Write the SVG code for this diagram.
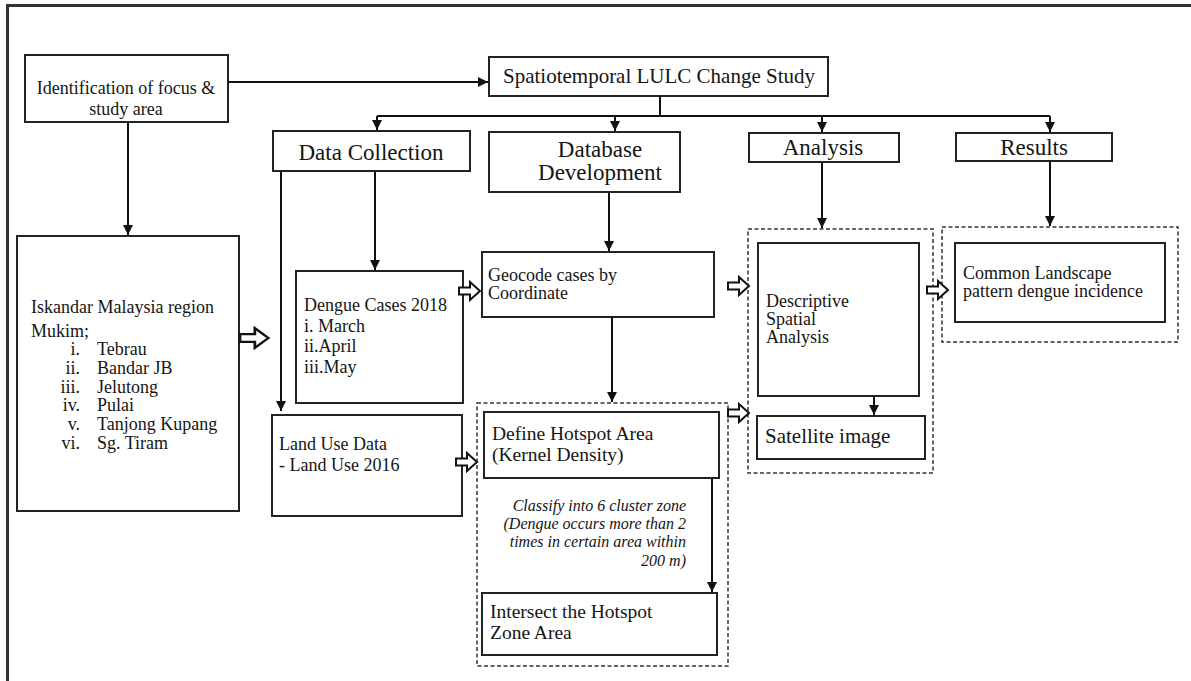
<svg xmlns="http://www.w3.org/2000/svg" width="1191" height="681" viewBox="0 0 1191 681" font-family="'Liberation Serif', 'Times New Roman', 'DejaVu Serif', serif">
<style>
.bx{fill:#fff;stroke:#222;stroke-width:2}
.ds{fill:none;stroke:#333;stroke-width:1.5;stroke-dasharray:4 2.5}
.ln{fill:none;stroke:#111;stroke-width:2}
.ha{fill:#fff;stroke:#111;stroke-width:2;stroke-linejoin:miter}
text{font-family:'Liberation Serif','Times New Roman','DejaVu Serif',serif;fill:#151515}
.t18{font-size:18px}
.t19{font-size:19.5px}
.t21{font-size:21px}
.t23{font-size:23px}
.it{font-size:16px;font-style:italic}
.c{text-anchor:middle}
.r{text-anchor:end}
</style>
<defs>
<marker id="ah" viewBox="0 0 10 10" refX="10" refY="5" markerWidth="5" markerHeight="5" orient="auto" markerUnits="strokeWidth">
<path d="M0,0 L10,5 L0,10 Z" fill="#111"/>
</marker>
<path id="hol" d="M0,-3.5 H11 V-9 L21,0 L11,9 V3.5 H0 Z"/>
</defs>
<rect width="1191" height="681" fill="#fff"/>
<path d="M7.5,681 V5.5 H1191" fill="none" stroke="#333" stroke-width="3"/>

<g id="identification">
<rect class="bx" x="25" y="55" width="203" height="67"/>
<text class="t18 c" x="126" y="94">Identification of focus &amp;</text>
<text class="t18 c" x="126" y="115">study area</text>
</g>
<g id="spatiotemporal">
<rect class="bx" x="489" y="57" width="339" height="39"/>
<text class="t21 c" x="659" y="83">Spatiotemporal LULC Change Study</text>
</g>
<g id="data-collection">
<rect class="bx" x="273" y="131" width="197" height="40"/>
<text class="t23 c" x="371" y="160">Data Collection</text>
</g>
<g id="database-development">
<rect class="bx" x="489" y="132" width="191" height="60"/>
<text class="t23 c" x="600" y="157">Database</text>
<text class="t23 c" x="600" y="180">Development</text>
</g>
<g id="analysis">
<rect class="bx" x="749" y="133" width="150" height="29"/>
<text class="t23 c" x="823" y="155">Analysis</text>
</g>
<g id="results">
<rect class="bx" x="956" y="133" width="156" height="28"/>
<text class="t23 c" x="1034" y="155">Results</text>
</g>
<g id="iskandar">
<rect class="bx" x="17" y="236" width="222" height="275"/>
<text class="t18" x="31" y="313">Iskandar Malaysia region</text>
<text class="t18" x="31" y="337">Mukim;</text>
<text class="t18 r" x="80" y="355">i.</text><text class="t18" x="97" y="355">Tebrau</text>
<text class="t18 r" x="80" y="374">ii.</text><text class="t18" x="97" y="374">Bandar JB</text>
<text class="t18 r" x="80" y="393">iii.</text><text class="t18" x="97" y="393">Jelutong</text>
<text class="t18 r" x="80" y="411">iv.</text><text class="t18" x="97" y="411">Pulai</text>
<text class="t18 r" x="80" y="430">v.</text><text class="t18" x="97" y="430">Tanjong Kupang</text>
<text class="t18 r" x="80" y="449">vi.</text><text class="t18" x="97" y="449">Sg. Tiram</text>
</g>
<g id="dengue-cases">
<rect class="bx" x="296" y="271" width="167" height="132"/>
<text class="t18" x="304" y="311">Dengue Cases 2018</text>
<text class="t18" x="304" y="332">i. March</text>
<text class="t18" x="304" y="352">ii.April</text>
<text class="t18" x="304" y="373">iii.May</text>
</g>
<g id="land-use">
<rect class="bx" x="272" y="415" width="190" height="101"/>
<text class="t18" x="279" y="450">Land Use Data</text>
<text class="t18" x="279" y="471">- Land Use 2016</text>
</g>
<g id="geocode">
<rect class="bx" x="482" y="252" width="232" height="65"/>
<text class="t18" x="488" y="281">Geocode cases by</text>
<text class="t18" x="488" y="299">Coordinate</text>
</g>
<g id="hotspot-group">
<rect class="ds" x="477" y="403" width="251" height="263"/>
</g>
<g id="define-hotspot">
<rect class="bx" x="484" y="412" width="235" height="66"/>
<text class="t19" x="492" y="440">Define Hotspot Area</text>
<text class="t19" x="492" y="461">(Kernel Density)</text>
</g>
<g id="classify-note">
<text class="it r" x="686" y="511">Classify into 6 cluster zone</text>
<text class="it r" x="686" y="529">(Dengue occurs more than 2</text>
<text class="it r" x="686" y="547">times in certain area within</text>
<text class="it r" x="686" y="566">200 m)</text>
</g>
<g id="intersect">
<rect class="bx" x="482" y="593" width="235" height="62"/>
<text class="t19" x="490" y="618">Intersect the Hotspot</text>
<text class="t19" x="490" y="639">Zone Area</text>
</g>
<g id="analysis-group">
<rect class="ds" x="748" y="229" width="185" height="244"/>
</g>
<g id="descriptive">
<rect class="bx" x="758" y="243" width="161" height="153"/>
<text class="t18" x="766" y="307">Descriptive</text>
<text class="t18" x="766" y="325">Spatial</text>
<text class="t18" x="766" y="343">Analysis</text>
</g>
<g id="satellite">
<rect class="bx" x="757" y="416" width="168" height="43"/>
<text class="t21" x="765" y="443">Satellite image</text>
</g>
<g id="results-group">
<rect class="ds" x="942" y="227" width="236" height="115"/>
</g>
<g id="common-landscape">
<rect class="bx" x="955" y="243" width="210" height="79"/>
<text class="t18" x="963" y="279">Common Landscape</text>
<text class="t18" x="963" y="297">pattern dengue incidence</text>
</g>

<g id="connectors">
<path class="ln" d="M228,82 H488" marker-end="url(#ah)"/>
<path class="ln" d="M128,122 V235" marker-end="url(#ah)"/>
<path class="ln" d="M660,96 V116"/>
<path class="ln" d="M377,116 H1050"/>
<path class="ln" d="M377,116 V130" marker-end="url(#ah)"/>
<path class="ln" d="M615,116 V131" marker-end="url(#ah)"/>
<path class="ln" d="M822,116 V132" marker-end="url(#ah)"/>
<path class="ln" d="M1050,116 V132" marker-end="url(#ah)"/>
<path class="ln" d="M281,171 V411" marker-end="url(#ah)"/>
<path class="ln" d="M375,171 V270" marker-end="url(#ah)"/>
<path class="ln" d="M609,192 V251" marker-end="url(#ah)"/>
<path class="ln" d="M612,317 V402" marker-end="url(#ah)"/>
<path class="ln" d="M822,162 V228" marker-end="url(#ah)"/>
<path class="ln" d="M1050,161 V226" marker-end="url(#ah)"/>
<path class="ln" d="M712,478 V592" marker-end="url(#ah)"/>
<path class="ln" d="M874,396 V415" marker-end="url(#ah)"/>
<use href="#hol" class="ha" transform="translate(240,338) scale(1.35,1.1)"/>
<use href="#hol" class="ha" transform="translate(459,291)"/>
<use href="#hol" class="ha" transform="translate(456,462)"/>
<use href="#hol" class="ha" transform="translate(728,286)"/>
<use href="#hol" class="ha" transform="translate(728,413)"/>
<use href="#hol" class="ha" transform="translate(927,290)"/>
</g>
</svg>
